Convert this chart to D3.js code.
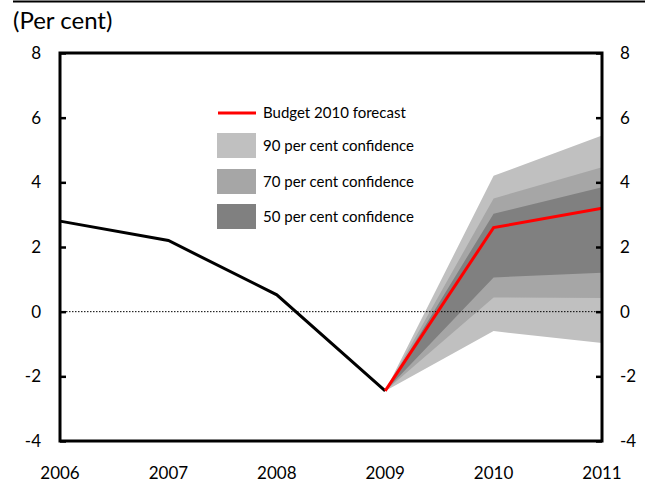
<!DOCTYPE html>
<html>
<head>
<meta charset="utf-8">
<script src="https://cdn.jsdelivr.net/npm/d3@7"></script>
<style>
  html, body { margin: 0; padding: 0; background: #fff; }
  svg { display: block; font-family: Lato, "Open Sans", sans-serif; }
</style>
</head>
<body>
<svg id="chart" width="645" height="483"></svg>
<script>
// Years on the horizontal axis
const years = [2006, 2007, 2008, 2009, 2010, 2011];
// Historical growth (per cent)
const actualYears = [2006, 2007, 2008, 2009];
const actualValues = [2.8, 2.2, 0.52, -2.45];
// Budget forecast path
const forecastYears = [2009, 2010, 2011];
const forecastValues = [-2.45, 2.6, 3.2];
// Confidence bands: [lower, upper] per forecast year
const band90Lower = [-2.45, -0.6, -0.97];
const band90Upper = [-2.45, 4.2, 5.45];
const band70Lower = [-2.45, 0.44, 0.42];
const band70Upper = [-2.45, 3.5, 4.47];
const band50Lower = [-2.45, 1.06, 1.2];
const band50Upper = [-2.45, 3.03, 3.85];
// Axis ticks
const yTicks = [-4, -2, 0, 2, 4, 6, 8];
const legendLabels = ["Budget 2010 forecast", "90 per cent confidence", "70 per cent confidence", "50 per cent confidence"];
const bandColors = ["#c0c0c0", "#a6a6a6", "#808080"];

const svg = d3.select("#chart");
const plotLeft = 60, plotRight = 602, plotTop = 53, plotBottom = 441;

const x = d3.scaleLinear().domain([2006, 2011]).range([plotLeft, plotRight]);
const y = d3.scaleLinear().domain([-4, 8]).range([plotBottom, plotTop]);

// Rule across the top
svg.append("line").attr("x1", 13).attr("x2", 645).attr("y1", 1.5).attr("y2", 1.5)
  .attr("stroke", "#000").attr("stroke-width", 2);

svg.append("text").attr("x", 13).attr("y", 29).attr("font-size", 24).text("(Per cent)");

// Fan bands, widest first
const bands = [
  [band90Lower, band90Upper, bandColors[0]],
  [band70Lower, band70Upper, bandColors[1]],
  [band50Lower, band50Upper, bandColors[2]]
];
const area = d3.area()
  .x(d => x(d.year)).y0(d => y(d.lo)).y1(d => y(d.hi));
bands.forEach(([lo, hi, col]) => {
  const pts = forecastYears.map((yr, i) => ({ year: yr, lo: lo[i], hi: hi[i] }));
  svg.append("path").datum(pts).attr("d", area).attr("fill", col);
});

// Zero reference line
svg.append("line").attr("x1", x(2006)).attr("x2", x(2011)).attr("y1", y(0)).attr("y2", y(0))
  .attr("stroke", "#000").attr("stroke-width", 1).attr("stroke-dasharray", "1.5,1.5");

const line = d3.line().x(d => x(d[0])).y(d => y(d[1]));
svg.append("path").datum(actualYears.map((yr, i) => [yr, actualValues[i]]))
  .attr("d", line).attr("fill", "none").attr("stroke", "#000").attr("stroke-width", 3)
  .attr("stroke-linejoin", "miter");
svg.append("path").datum(forecastYears.map((yr, i) => [yr, forecastValues[i]]))
  .attr("d", line).attr("fill", "none").attr("stroke", "#ff0000").attr("stroke-width", 3)
  .attr("stroke-linejoin", "miter");

// Frame
svg.append("rect").attr("x", plotLeft).attr("y", plotTop).attr("width", plotRight - plotLeft).attr("height", plotBottom - plotTop)
  .attr("fill", "none").attr("stroke", "#000").attr("stroke-width", 3);

// Y axes with inward ticks
const yLeft = d3.axisRight(y).tickValues(yTicks).tickSize(6).tickFormat("");
const yRight = d3.axisLeft(y).tickValues(yTicks).tickSize(6).tickFormat("");
[[plotLeft, yLeft], [plotRight, yRight]].forEach(([px, ax]) => {
  const g = svg.append("g").attr("transform", `translate(${px},0)`).call(ax);
  g.select(".domain").remove();
  g.selectAll(".tick line").attr("stroke", "#000").attr("stroke-width", 2.5);
});

svg.append("g").selectAll("text").data(yTicks).join("text")
  .attr("x", 41).attr("y", d => y(d)).attr("dy", "0.35em").attr("text-anchor", "end")
  .attr("font-size", 17).text(d => d);
svg.append("g").selectAll("text").data(yTicks).join("text")
  .attr("x", 620).attr("y", d => y(d)).attr("dy", "0.35em").attr("text-anchor", "start")
  .attr("font-size", 17).text(d => d);

// X labels
svg.append("g").selectAll("text").data(years).join("text")
  .attr("x", d => x(d)).attr("y", 479).attr("text-anchor", "middle")
  .attr("font-size", 17).text(d => d);

// Legend
const lg = svg.append("g");
lg.append("line").attr("x1", 218).attr("x2", 256).attr("y1", 113).attr("y2", 113)
  .attr("stroke", "#ff0000").attr("stroke-width", 3);
lg.append("text").attr("x", 263).attr("y", 113).attr("dy", "0.35em").attr("font-size", 15).text(legendLabels[0]);
const swY = [133, 169, 204];
bandColors.forEach((c, i) => {
  lg.append("rect").attr("x", 217).attr("y", swY[i]).attr("width", 39).attr("height", 25).attr("fill", c);
  lg.append("text").attr("x", 263).attr("y", swY[i] + 13).attr("dy", "0.35em").attr("font-size", 15)
    .text(legendLabels[i + 1]);
});
</script>
</body>
</html>
